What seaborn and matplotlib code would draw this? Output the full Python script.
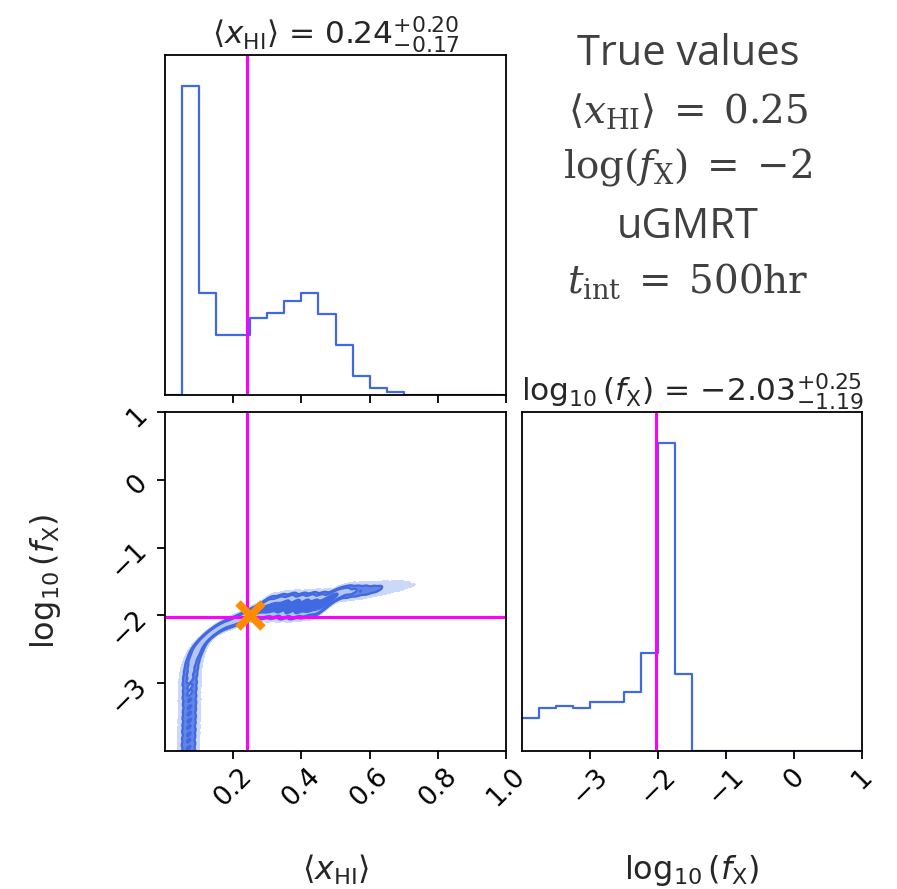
import numpy as np
import pandas as pd
import matplotlib
matplotlib.use("Agg")
import matplotlib.pyplot as plt
from matplotlib.colors import ListedColormap
import seaborn as sns

# ---- data ----
# marginal posterior of <x_HI>, 20 bins over [0, 1]
xhi_edges = np.linspace(0.0, 1.0, 21)
xhi_counts = [0, 928, 307, 180, 180, 230, 247, 282, 307, 243,
              150, 58, 22, 8, 0, 0, 0, 0, 0, 0]

# marginal posterior of log10(f_X), 20 bins over [-4, 1]
fx_edges = np.linspace(-4.0, 1.0, 21)
fx_counts = [99, 130, 136, 130, 146, 146, 176, 294, 926, 232,
             0, 0, 0, 0, 0, 0, 0, 0, 0, 0]

# ridge of the joint posterior (x_HI, log10 f_X) with relative weight,
# last rows trace the upper and lower edge of the wide part near x_HI ~ 0.4
ridge_x = [0.068, 0.068, 0.068, 0.069, 0.069, 0.070, 0.070, 0.071, 0.071,
           0.072, 0.072, 0.072, 0.073, 0.073, 0.075, 0.078, 0.083,
           0.090, 0.097, 0.110, 0.128, 0.147, 0.170, 0.196, 0.220, 0.240,
           0.260, 0.279, 0.300, 0.325, 0.350, 0.375, 0.400, 0.425, 0.450,
           0.475, 0.500, 0.525, 0.550, 0.575, 0.600, 0.625, 0.650, 0.675,
           0.700, 0.725, 0.750,
           0.300, 0.330, 0.360, 0.390, 0.420, 0.450, 0.480,
           0.300, 0.330, 0.360, 0.390, 0.420, 0.450]
ridge_y = [-4.25, -4.15, -4.05, -3.95, -3.85, -3.75, -3.65, -3.55, -3.45,
           -3.35, -3.25, -3.15, -3.05, -2.95, -2.85, -2.75, -2.65,
           -2.56, -2.47, -2.38, -2.29, -2.22, -2.15, -2.10, -2.05, -2.00,
           -1.96, -1.93, -1.90, -1.88, -1.87, -1.87, -1.87, -1.86, -1.85,
           -1.80, -1.70, -1.66, -1.65, -1.64, -1.63, -1.61, -1.60, -1.58,
           -1.57, -1.56, -1.54,
           -1.80, -1.78, -1.77, -1.77, -1.76, -1.75, -1.73,
           -1.96, -1.95, -1.95, -1.95, -1.94, -1.93]
ridge_w = [40, 40, 40, 40, 40, 40, 40, 40, 40,
           40, 40, 42, 42, 45, 45, 45, 45,
           45, 45, 45, 45, 45, 45, 45, 50, 55,
           60, 70, 80, 90, 100, 110, 110, 110, 100,
           90, 70, 55, 45, 38, 30, 24, 18, 13,
           9, 6, 4,
           40, 50, 60, 60, 60, 50, 35,
           40, 50, 60, 60, 55, 40]

xhi_median, xhi_plus, xhi_minus = 0.24, 0.20, 0.17
fx_median, fx_plus, fx_minus = -2.03, 0.25, 1.19
xhi_true, fx_true = 0.25, -2

xhi_ticks = [0.2, 0.4, 0.6, 0.8, 1.0]
fx_ticks = [-3, -2, -1, 0, 1]

# ---- style ----
sns.set_style("ticks")
plt.rcParams.update({
    "font.family": ["DejaVu Sans"],
    "axes.linewidth": 1.3,
    "axes.edgecolor": "black",
    "xtick.major.size": 5.6,
    "ytick.major.size": 5.6,
    "xtick.major.width": 1.3,
    "ytick.major.width": 1.3,
    "xtick.labelsize": 19,
    "ytick.labelsize": 19,
    "xtick.color": "black",
    "ytick.color": "black",
})

blue = "royalblue"
magenta = "#ff00ff"
label_size = 23
title_size = 22.5

fig = plt.figure(figsize=(8.97, 8.89), dpi=100)
W, H = 897.0, 889.0
ax_top = fig.add_axes([165 / W, 1 - 395 / H, 341 / W, 340 / H])
ax_2d = fig.add_axes([165 / W, 1 - 751 / H, 341 / W, 339 / H])
ax_r = fig.add_axes([522 / W, 1 - 751 / H, 340 / W, 339 / H])

# top: 1D histogram of x_HI
xhi_df = pd.DataFrame({"x": 0.5 * (xhi_edges[:-1] + xhi_edges[1:]),
                       "w": xhi_counts})
sns.histplot(data=xhi_df, x="x", weights="w", bins=list(xhi_edges),
             element="step", fill=False, color=blue, lw=1.6, ax=ax_top)
ax_top.axvline(xhi_median, color=magenta, lw=2.2)
ax_top.set_xlim(0, 1)
ax_top.set_ylim(0, 1.1 * max(xhi_counts))
ax_top.set_xticks(xhi_ticks)
ax_top.set_xticklabels([])
ax_top.set_yticks([])
ax_top.set_xlabel("")
ax_top.set_ylabel("")
ax_top.set_title(r"$\langle x_{\rm HI}\rangle$ = $%.2f^{+%.2f}_{-%.2f}$"
                 % (xhi_median, xhi_plus, xhi_minus), fontsize=title_size)

# right: 1D histogram of log10 f_X
fx_df = pd.DataFrame({"x": 0.5 * (fx_edges[:-1] + fx_edges[1:]),
                      "w": fx_counts})
sns.histplot(data=fx_df, x="x", weights="w", bins=list(fx_edges),
             element="step", fill=False, color=blue, lw=1.6, ax=ax_r)
ax_r.axvline(fx_median, color=magenta, lw=2.2)
ax_r.set_xlim(-4, 1)
ax_r.set_ylim(0, 1.1 * max(fx_counts))
ax_r.set_xticks(fx_ticks)
ax_r.set_yticks([])
ax_r.set_ylabel("")
ax_r.set_xlabel(r"$\log_{10}(f_{\rm X})$", fontsize=label_size)
ax_r.xaxis.set_label_coords(0.5, -0.3)
ax_r.set_title(r"$\log_{10}(f_{\rm X})$ = $%.2f^{+%.2f}_{-%.2f}$"
               % (fx_median, fx_plus, fx_minus), fontsize=title_size)
for lab in ax_r.get_xticklabels():
    lab.set_rotation(45)

# joint posterior: filled density bands, then contour lines
ridge_df = pd.DataFrame({"x": ridge_x, "y": ridge_y, "w": ridge_w})
kde_kws = dict(data=ridge_df, x="x", y="y", weights="w", bw_method=0.1,
               gridsize=300, ax=ax_2d)
for lev, col in [(0.03, "#ccd8f7"), (0.135, "#6385e7"), (0.35, "#b6c6f4"),
                 (0.7, blue)]:
    sns.kdeplot(**kde_kws, fill=True, levels=[lev, 1.0],
                cmap=ListedColormap([col]))
sns.kdeplot(**kde_kws, levels=[0.135, 0.35, 0.7, 0.9], color=blue,
            linewidths=1.6)
ax_2d.axvline(xhi_median, color=magenta, lw=2.2)
ax_2d.axhline(fx_median, color=magenta, lw=2.2)
ax_2d.plot(xhi_true, fx_true, marker="x", ms=18, mew=5.5, color="darkorange",
           zorder=5)
ax_2d.set_xlim(0, 1)
ax_2d.set_ylim(-4, 1)
ax_2d.set_xticks(xhi_ticks)
ax_2d.set_yticks(fx_ticks)
ax_2d.set_xlabel(r"$\langle x_{\rm HI}\rangle$", fontsize=label_size)
ax_2d.set_ylabel(r"$\log_{10}(f_{\rm X})$", fontsize=label_size)
ax_2d.xaxis.set_label_coords(0.5, -0.3)
ax_2d.yaxis.set_label_coords(-0.3, 0.5)
for lab in ax_2d.get_xticklabels() + ax_2d.get_yticklabels():
    lab.set_rotation(45)

# annotation with the true values
tx = 688 / W
grey = "#404040"
math_kw = dict(ha="center", va="baseline", fontsize=28, color=grey,
               math_fontfamily="dejavuserif")
fig.text(tx, 1 - 65 / H, "True values", ha="center", va="baseline",
         fontsize=30, color=grey, family="Open Sans")
fig.text(tx, 1 - 123 / H,
         r"$\langle x_{\rm HI}\rangle\;=\;%.2f$" % xhi_true, **math_kw)
fig.text(tx, 1 - 177 / H, r"$\log(f_{\rm X})\;=\;{%d}$" % fx_true, **math_kw)
fig.text(tx, 1 - 238 / H, "uGMRT", ha="center", va="baseline",
         fontsize=30, color=grey, family="Open Sans")
fig.text(tx, 1 - 293 / H, r"$t_{\rm int}\;=\;500{\rm hr}$", **math_kw)

fig.savefig("out.png", dpi=100)
